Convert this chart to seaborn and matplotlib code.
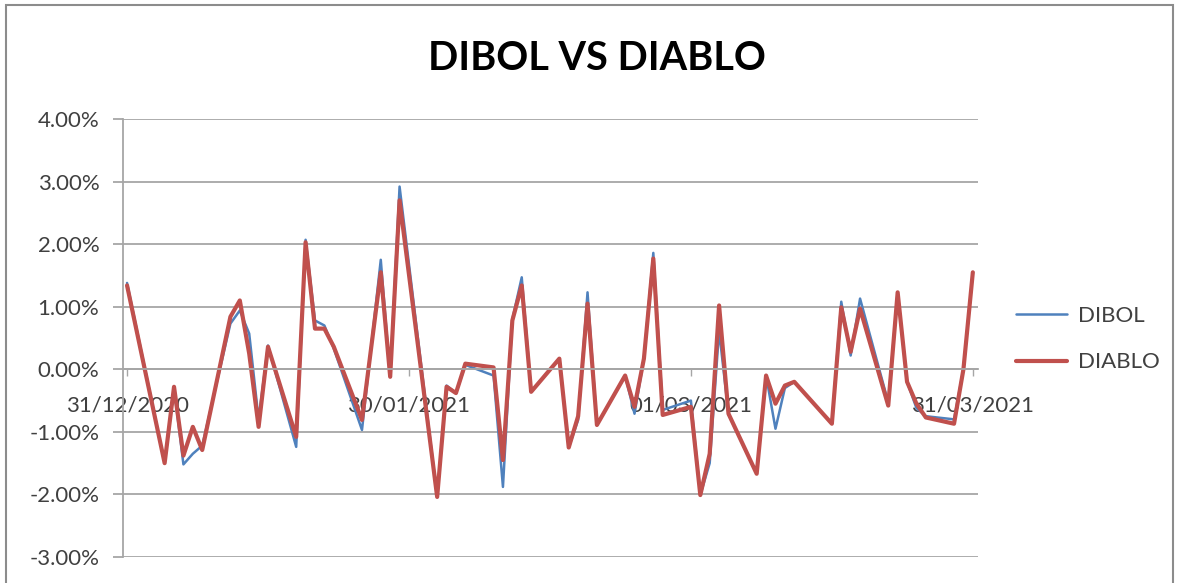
import matplotlib
matplotlib.use('Agg')
import matplotlib.pyplot as plt
import matplotlib.dates as mdates
from matplotlib.patches import Rectangle
from matplotlib.ticker import FuncFormatter
import pandas as pd
import seaborn as sns

# Daily returns (%)
dates = ["2020-12-31", "2021-01-04", "2021-01-05", "2021-01-06", "2021-01-07",
         "2021-01-08", "2021-01-11", "2021-01-12", "2021-01-13", "2021-01-14",
         "2021-01-15", "2021-01-18", "2021-01-19", "2021-01-20", "2021-01-21",
         "2021-01-22", "2021-01-25", "2021-01-27", "2021-01-28", "2021-01-29",
         "2021-02-02", "2021-02-03", "2021-02-04", "2021-02-05", "2021-02-08",
         "2021-02-09", "2021-02-10", "2021-02-11", "2021-02-12", "2021-02-15",
         "2021-02-16", "2021-02-17", "2021-02-18", "2021-02-19", "2021-02-22",
         "2021-02-23", "2021-02-24", "2021-02-25", "2021-02-26", "2021-03-01",
         "2021-03-02", "2021-03-03", "2021-03-04", "2021-03-05", "2021-03-08",
         "2021-03-09", "2021-03-10", "2021-03-11", "2021-03-12", "2021-03-16",
         "2021-03-17", "2021-03-18", "2021-03-19", "2021-03-22", "2021-03-23",
         "2021-03-24", "2021-03-25", "2021-03-26", "2021-03-29", "2021-03-30",
         "2021-03-31"]

dibol = [1.38, -1.50, -0.30, -1.52, -1.35,
         -1.22, 0.73, 0.94, 0.57, -0.80,
         0.38, -1.24, 2.07, 0.78, 0.70,
         0.33, -0.97, 1.75, -0.12, 2.92,
         -2.04, -0.26, -0.38, 0.07, -0.10,
         -1.88, 0.80, 1.47, -0.36, 0.17,
         -1.25, -0.81, 1.23, -0.89, -0.10,
         -0.71, 0.17, 1.86, -0.65, -0.50,
         -2.01, -1.50, 0.62, -0.72, -1.67,
         -0.10, -0.95, -0.30, -0.20, -0.87,
         1.08, 0.22, 1.13, -0.53, 1.23,
         -0.20, -0.62, -0.75, -0.80, 0.00,
         1.55]

diablo = [1.34, -1.50, -0.28, -1.38, -0.92,
          -1.29, 0.84, 1.10, 0.25, -0.92,
          0.36, -1.08, 2.03, 0.65, 0.65,
          0.36, -0.81, 1.55, -0.12, 2.70,
          -2.04, -0.28, -0.38, 0.09, 0.03,
          -1.45, 0.78, 1.34, -0.36, 0.17,
          -1.25, -0.75, 1.05, -0.89, -0.10,
          -0.60, 0.17, 1.77, -0.73, -0.60,
          -2.01, -1.35, 1.02, -0.71, -1.67,
          -0.10, -0.55, -0.26, -0.20, -0.87,
          0.99, 0.28, 0.97, -0.58, 1.23,
          -0.20, -0.55, -0.77, -0.87, 0.00,
          1.55]

x_ticks = ["31/12/2020", "30/01/2021", "01/03/2021", "31/03/2021"]
y_ticks = [-3, -2, -1, 0, 1, 2, 3, 4]

df = pd.DataFrame({"date": pd.to_datetime(dates), "DIBOL": dibol, "DIABLO": diablo})

sns.set_theme(style="white")
plt.rcParams['font.family'] = ['Lato', 'DejaVu Sans']

grid_col = '#a6a6a6'
text_col = '#404040'

fig = plt.figure(figsize=(11.8, 5.83), dpi=100)
ax = fig.add_axes([123 / 1180, 26 / 583, 855 / 1180, 438 / 583])

sns.lineplot(data=df, x="date", y="DIBOL", color="#4f81bd", linewidth=1.8, label="DIBOL", ax=ax)
sns.lineplot(data=df, x="date", y="DIABLO", color="#c0504d", linewidth=3.0, label="DIABLO", ax=ax)

# y axis
ax.set_ylim(-3, 4)
ax.set_yticks(y_ticks)
ax.yaxis.set_major_formatter(FuncFormatter(lambda v, p: f"{v:.2f}%"))
ax.grid(axis='y', color=grid_col, linewidth=1.3)
ax.grid(axis='x', visible=False)
ax.tick_params(axis='y', length=7, width=1.3, color=grid_col, labelcolor=text_col,
               labelsize=16, pad=10, left=True)

# x axis sits on the zero line
tick_dates = pd.to_datetime(x_ticks, format="%d/%m/%Y")
ax.set_xticks(mdates.date2num(tick_dates))
ax.set_xticklabels(x_ticks)
x0 = mdates.date2num(tick_dates[0])
ax.set_xlim(x0 - 0.43, x0 + 90.55)
ax.tick_params(axis='x', length=5, width=1, color=grid_col, labelcolor=text_col,
               labelsize=16, pad=14, bottom=True, direction='out')
ax.spines['bottom'].set_position(('data', 0))
ax.spines['bottom'].set_color(grid_col)
ax.spines['bottom'].set_linewidth(1.3)
ax.spines['left'].set_color(grid_col)
ax.spines['left'].set_linewidth(1.3)
ax.spines['top'].set_visible(False)
ax.spines['right'].set_visible(False)
ax.set_xlabel("")
ax.set_ylabel("")

ax.legend(loc='center left', bbox_to_anchor=(1016 / 1180, 1 - 339 / 583),
          bbox_transform=fig.transFigure, frameon=False, fontsize=16,
          handlelength=2.3, handletextpad=0.5, labelspacing=1.2,
          borderpad=0, borderaxespad=0, labelcolor=text_col)

fig.text(597 / 1180, 1 - 58 / 583, "DIBOL VS DIABLO", ha='center', va='center',
         fontsize=28.5, fontweight='bold', color='black')

# chart border
fig.add_artist(Rectangle((6 / 1180, -0.05), 1167 / 1180, 1.05 - 5 / 583,
                         transform=fig.transFigure, fill=False,
                         edgecolor='#8c8c8c', linewidth=1.5))

fig.savefig("out.png", dpi=100)
